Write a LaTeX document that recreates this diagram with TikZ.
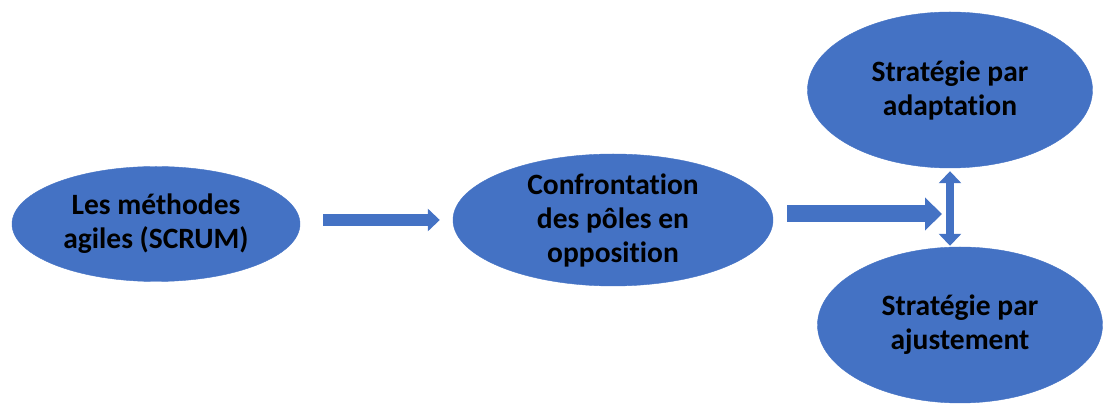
\documentclass[tikz,border=0pt]{standalone}
\usepackage{fontspec}
\setmainfont{Carlito}[Ligatures=NoCommon]
\usetikzlibrary{arrows.meta,shapes.geometric}
\definecolor{officeblue}{HTML}{4472C4}

\begin{document}
\begin{tikzpicture}[x=1pt,y=1pt,main node/.style={ellipse,fill=officeblue,draw=officeblue,inner sep=0pt,align=center,font=\fontsize{29.5}{34}\selectfont\bfseries},block arrow/.style={draw=officeblue,line width=#1}]
                \useasboundingbox (0,0) rectangle (1104,404);

                \node[main node,minimum width=288pt,minimum height=115pt] (agile) at (156,180) {Les méthodes\\agiles (SCRUM)};
                \node[main node,minimum width=320pt,minimum height=124pt] (confront) at (613,184) {Confrontation\\des pôles en\\opposition};
                \node[main node,minimum width=285pt,minimum height=156pt] (adapt) at (950,314) {Stratégie par\\adaptation};
                \node[main node,minimum width=285pt,minimum height=156pt] (ajust) at (960,79) {Stratégie par\\ajustement};
                \coordinate (join) at (950,190);

                \draw[block arrow=12pt,-{Triangle[width=22pt,length=12pt]},shorten <=23pt,shorten >=13pt]
                    (agile.east |- confront.west) -- (confront.west);
                \draw[block arrow=17pt,-{Triangle[width=32pt,length=17pt]},shorten <=14pt,shorten >=8pt]
                    (confront.east |- join) -- (join);
                \draw[block arrow=8pt,{Triangle[width=22pt,length=12pt]}-{Triangle[width=22pt,length=12pt]},shorten <=3pt,shorten >=1pt]
                    (adapt.south) -- (adapt.south |- ajust.north);

            \end{tikzpicture}
\end{document}
